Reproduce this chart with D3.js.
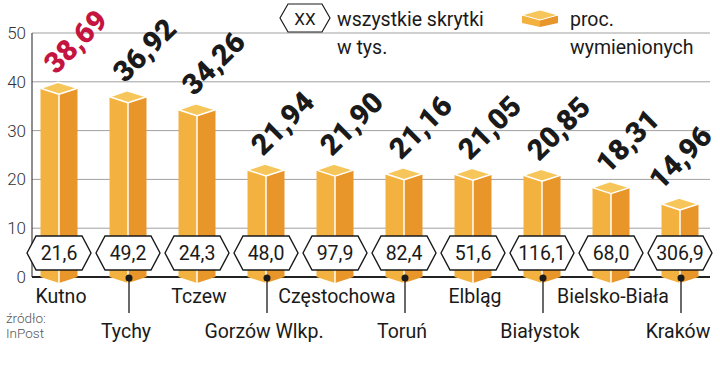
<!DOCTYPE html>
<html><head><meta charset="utf-8">
<script src="https://cdn.jsdelivr.net/npm/d3@7"></script>
<style>body{margin:0;background:#fff}svg{display:block}</style>
</head><body>
<svg id="c" width="720" height="369"></svg>
<script>
const categories = ["Kutno","Tychy","Tczew","Gorzów Wlkp.","Częstochowa","Toruń","Elbląg","Białystok","Bielsko-Biała","Kraków"];
const percentValues = [38.69,36.92,34.26,21.94,21.90,21.16,21.05,20.85,18.31,14.96];
const percentLabels = ["38,69","36,92","34,26","21,94","21,90","21,16","21,05","20,85","18,31","14,96"];
const lockerLabels = ["21,6","49,2","24,3","48,0","97,9","82,4","51,6","116,1","68,0","306,9"];
const yTicks = [0,10,20,30,40,50];

const svg = d3.select("#c");
const F = "Roboto, 'DejaVu Sans', sans-serif";
const y = d3.scaleLinear().domain([0,50]).range([277,33]);
const x = d3.scaleBand().domain(categories).range([24.5,714.5]).paddingInner(0.464).paddingOuter(0.232);
const gridL = 32, gridR = 710;

// gridlines
svg.append("g").selectAll("line").data(yTicks.filter(t=>t>0)).join("line")
  .attr("x1",gridL).attr("x2",gridR).attr("y1",d=>y(d)).attr("y2",d=>y(d))
  .attr("stroke","#a0a0a0").attr("stroke-width",1);

// y axis labels
const ax = svg.append("g").attr("transform",`translate(${gridL},0)`)
  .call(d3.axisLeft(y).tickValues(yTicks).tickSize(0).tickPadding(6).tickFormat(d3.format("d")));
ax.select(".domain").remove();
ax.selectAll("text").attr("font-family",F).attr("font-size",17).attr("font-weight",300).attr("fill","#333");
svg.append("line").attr("x1",gridL).attr("x2",gridL).attr("y1",y(50)).attr("y2",y(0)).attr("stroke","#444").attr("stroke-width",1.2);
svg.append("line").attr("x1",gridL).attr("x2",gridR).attr("y1",y(0)).attr("y2",y(0)).attr("stroke","#222").attr("stroke-width",2);

// bars
const d = 6;
const bars = svg.append("g").selectAll("g").data(categories).join("g");
bars.each(function(c,i){
  const g = d3.select(this);
  const x0 = x(c), w = x.bandwidth(), x1 = x0+w, cx = x0+w/2;
  const yv = y(percentValues[i]), y0 = y(0);
  g.append("path").attr("d",`M${x0},${yv}L${cx},${yv+d}L${cx},${y0+d}L${x0},${y0}Z`).attr("fill","#f3b23f");
  g.append("path").attr("d",`M${cx},${yv+d}L${x1},${yv}L${x1},${y0}L${cx},${y0+d}Z`).attr("fill","#e8952a");
  g.append("path").attr("d",`M${x0},${yv}L${cx-1},${yv-d}L${x1},${yv}L${cx},${yv+d}Z`).attr("fill","#f7c65a")
    .attr("stroke","#fff").attr("stroke-width",1.5).attr("stroke-linejoin","round");
  g.append("line").attr("x1",cx).attr("x2",cx).attr("y1",yv+d).attr("y2",y0+d).attr("stroke","#fff").attr("stroke-width",1.5);
  // value label (rotated)
  const t = g.append("text")
    .attr("font-family","Roboto, sans-serif").attr("font-weight",900).attr("font-size",29)
    .attr("fill", i===0 ? "#c4143f" : "#1a1a1a").text(percentLabels[i]);
  const L = t.node().getComputedTextLength();
  const ax0 = Math.min(cx-3, 714 - L*Math.SQRT1_2);
  t.attr("transform",`translate(${ax0},${yv-13}) rotate(-45)`);
  // hexagon
  const hy = 253, hw = 32, hi = 9, hh = 17;
  g.append("path").attr("d",`M${cx-hw},${hy}L${cx-hw+hi},${hy-hh}L${cx+hw-hi},${hy-hh}L${cx+hw},${hy}L${cx+hw-hi},${hy+hh}L${cx-hw+hi},${hy+hh}Z`)
    .attr("fill","#fff").attr("stroke","#1a1a1a").attr("stroke-width",1.4);
  g.append("text").attr("x",cx).attr("y",hy+7).attr("text-anchor","middle")
    .attr("font-family",F).attr("font-size",19.5).attr("fill","#1a1a1a").text(lockerLabels[i]);
  // category label
  if (i%2===0){
    g.append("text").attr("x",cx+2).attr("y",303).attr("text-anchor","middle")
      .attr("font-family",F).attr("font-size",19.5).attr("fill","#1a1a1a").text(c);
  } else {
    g.append("line").attr("x1",cx+1).attr("x2",cx+1).attr("y1",y(0)).attr("y2",313).attr("stroke","#1a1a1a").attr("stroke-width",1.3);
    g.append("circle").attr("cx",cx+1).attr("cy",y(0)+1).attr("r",3.5).attr("fill","#1a1a1a");
    g.append("text").attr("x",cx-2).attr("y",338).attr("text-anchor","middle")
      .attr("font-family",F).attr("font-size",19.5).attr("fill","#1a1a1a").text(c);
  }
});

// legend
const lg = svg.append("g");
lg.append("path").attr("d","M280,18L288,4L322,4L330,18L322,32L288,32Z").attr("fill","#fff").attr("stroke","#1a1a1a").attr("stroke-width",1.2);
lg.append("text").attr("x",305).attr("y",25).attr("text-anchor","middle").attr("font-family",F).attr("font-size",17).attr("fill","#1a1a1a").text("XX");
lg.append("text").attr("x",337).attr("y",26).attr("font-family",F).attr("font-size",19.5).attr("fill","#1a1a1a").text("wszystkie skrytki");
lg.append("text").attr("x",337).attr("y",54).attr("font-family",F).attr("font-size",19.5).attr("fill","#1a1a1a").text("w tys.");
lg.append("path").attr("d","M522,15L540,20L540,27L522,23Z").attr("fill","#f3b23f");
lg.append("path").attr("d","M540,20L558,15L558,23L540,27Z").attr("fill","#e8952a");
lg.append("path").attr("d","M522,15L540,10L558,15L540,20Z").attr("fill","#f7c65a").attr("stroke","#fff").attr("stroke-width",1);
lg.append("text").attr("x",570).attr("y",26).attr("font-family",F).attr("font-size",19.5).attr("fill","#1a1a1a").text("proc.");
lg.append("text").attr("x",570).attr("y",54).attr("font-family",F).attr("font-size",19.5).attr("fill","#1a1a1a").text("wymienionych");

// source
svg.append("text").attr("x",6).attr("y",323).attr("font-family",F).attr("font-size",13.5).attr("font-weight",300).attr("fill","#555").text("źródło:");
svg.append("text").attr("x",6).attr("y",338).attr("font-family",F).attr("font-size",13.5).attr("font-weight",300).attr("fill","#555").text("InPost");
</script>
</body></html>
